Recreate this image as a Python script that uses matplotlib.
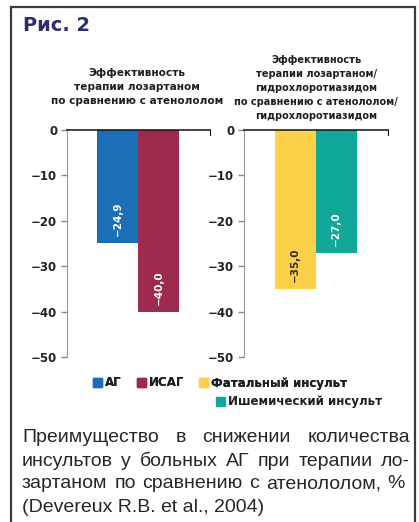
import matplotlib
matplotlib.use('Agg')
import matplotlib.pyplot as plt
from matplotlib.patches import Rectangle

# ###############################################
W, H = 419, 522
left_cats = ['АГ', 'ИСАГ']
left_vals = [-24.9, -40.0]
right_cats = ['Фатальный инсульт', 'Ишемический инсульт']
right_vals = [-35.0, -27.0]
yticks = [0, -10, -20, -30, -40, -50]
left_colors = ['#1a6fb8', '#9e2a4e']
right_colors = ['#fdd04a', '#10a898']
label_colors_left = ['white', 'white']
label_colors_right = ['#2a2a2a', 'white']
left_title = 'Эффективность\nтерапии лозартаном\nпо сравнению с атенололом'
right_title = ('Эффективность\nтерапии лозартаном/\nгидрохлоротиазидом\n'
               'по сравнению с атенололом/\nгидрохлоротиазидом')
caption = [
    'Преимущество в снижении количества',
    'инсультов у больных АГ при терапии ло-',
    'зартаном по сравнению с атенололом, %',
]
caption_last = '(Devereux R.B. et al., 2004)'
# ###############################################


def fx(x):
    return x / W


def fy(y):
    return 1 - y / H


fig = plt.figure(figsize=(W / 100, H / 100), dpi=100)
fig.patch.set_facecolor('white')

# frame
fig.patches.append(Rectangle((fx(11), -0.05), fx(415) - fx(11), fy(7) + 0.05,
                             transform=fig.transFigure, fill=False,
                             ec='#3c3c3c', lw=1.6))

fig.text(fx(23), fy(16), 'Рис. 2', fontsize=14, fontweight='bold',
         color='#2d2e6c', va='top', ha='left')


def fmt(v):
    return ('−' if v < 0 else '') + ('%.1f' % abs(v)).replace('.', ',')


def panel(rect, vals, colors, lcolors):
    ax = fig.add_axes(rect)
    x = list(range(len(vals)))
    ax.bar(x, vals, width=1.0, color=colors, zorder=2)
    ax.set_ylim(-50, 0)
    ax.set_xlim(-1.25, 2.27)
    ax.set_yticks(yticks)
    ax.set_xticks([])
    ax.tick_params(axis='y', length=4, width=1, color='#888888', pad=3,
                   labelsize=8.5, labelcolor='#222222')
    for lab in ax.get_yticklabels():
        lab.set_fontweight('bold')
    ax.spines['bottom'].set_visible(False)
    ax.spines['left'].set_color('#999999')
    ax.spines['top'].set_color('#111111')
    ax.spines['top'].set_linewidth(1.1)
    ax.spines['right'].set_color('#111111')
    ax.spines['right'].set_bounds(-1.2, 0)
    for xi, v, c in zip(x, vals, lcolors):
        ax.text(xi, v + 5.3, fmt(v), rotation=90, ha='center', va='center',
                fontsize=7.5, fontweight='bold', color=c)
    return ax


ax1 = panel([fx(67), fy(357), (210 - 67) / W, 227 / H], left_vals, left_colors, label_colors_left)
ax2 = panel([fx(244), fy(357), (388 - 244) / W, 227 / H], right_vals, right_colors, label_colors_right)

fig.text(fx(137), fy(87), left_title, ha='center', va='center', fontsize=7.6,
         fontweight='bold', color='#1e1e1e', linespacing=1.45)
fig.text(fx(316), fy(88), right_title, ha='center', va='center', fontsize=7.0,
         fontweight='bold', color='#1e1e1e', linespacing=1.5)

# legend: first row of three, the fourth entry alone below
hs = [Rectangle((0, 0), 1, 1, color=c) for c in left_colors + right_colors]
leg_kw = dict(frameon=False, borderpad=0, borderaxespad=0, handlelength=0.75,
              handleheight=0.75, handletextpad=0.25,
              prop={'size': 8.5, 'weight': 'bold'}, labelcolor='#1e1e1e')
leg1 = fig.legend(hs[:3], left_cats + right_cats[:1], ncol=3, loc='center left',
                  bbox_to_anchor=(fx(93), fy(383)), columnspacing=1.3, **leg_kw)
fig.add_artist(leg1)
fig.legend(hs[3:], right_cats[1:], loc='center left',
           bbox_to_anchor=(fx(216), fy(402)), **leg_kw)

# caption, justified like the original
cap_kw = dict(fontsize=14, family='Liberation Sans', color='#262626',
              va='center', ha='left')
renderer = fig.canvas.get_renderer()
x0 = 22
x_right = [410, 410, 405]
cap_y = [438, 461, 484]
for line, y, x1 in zip(caption, cap_y, x_right):
    words = line.split()
    texts = [fig.text(0, fy(y), w, **cap_kw) for w in words]
    widths = [t.get_window_extent(renderer).width for t in texts]
    gap = (x1 - x0 - sum(widths)) / (len(words) - 1)
    xp = x0
    for t, w in zip(texts, widths):
        t.set_x(fx(xp))
        xp += w + gap
fig.text(fx(x0), fy(507), caption_last, **cap_kw)

plt.savefig('out.png', dpi=100)
